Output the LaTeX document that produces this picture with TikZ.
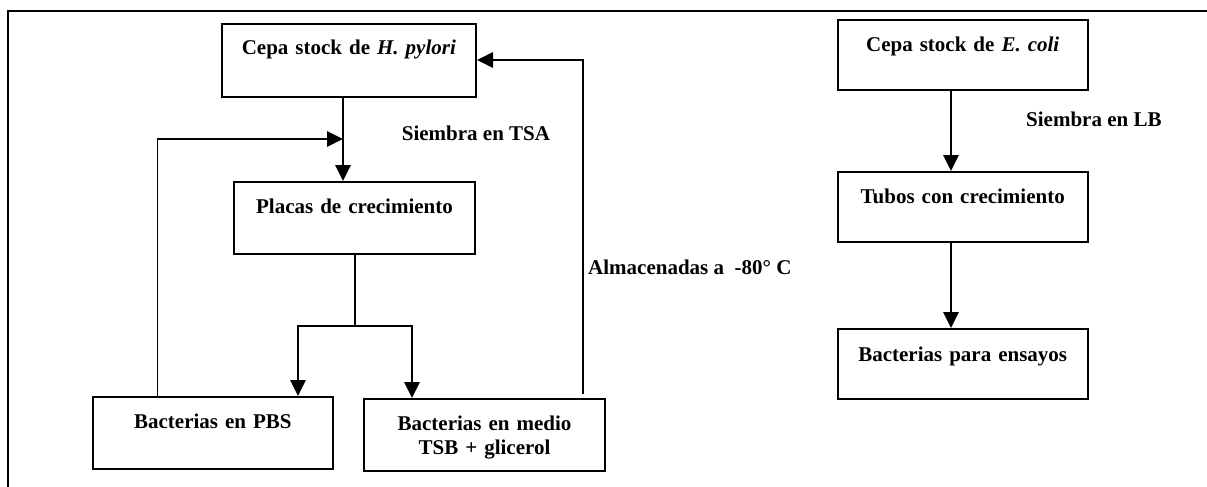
\documentclass[tikz,border=0pt]{standalone}
\usepackage{fontspec}
\setmainfont{Liberation Serif}
\usetikzlibrary{arrows.meta}
\begin{document}
\begin{tikzpicture}[x=1pt,y=-1pt,
  every node/.style={font=\bfseries\fontsize{21}{24}\selectfont, inner sep=0pt},
  box/.style={draw, line width=2pt, align=center, anchor=north west},
  arr/.style={line width=2.7pt, -{Triangle[length=16pt,width=15pt]}},
  stem/.style={line width=2.7pt},
  thinline/.style={line width=1.5pt},
  frameline/.style={line width=2.6pt},
  lbl/.style={anchor=base west}]
\useasboundingbox (0,0) rectangle (1207,487);
% frame
\coordinate (fa) at (1212,11);
\coordinate (fb) at (8,11);
\coordinate (fc) at (8,492);
\draw[frameline] (fa) -- (fb) -- (fc);
% H. pylori branch
\node[box, text width=254.3pt, text height=31pt, text depth=42pt] (hp) at (220.7,23) {Cepa stock de \textit{H. pylori}};
\node[box, text width=241pt, text height=31pt, text depth=41pt] (pl) at (233,181) {Placas de crecimiento};
\node[box, text width=240.3pt, text height=31pt, text depth=41pt] (pbs) at (91.7,396) {Bacterias en PBS};
\node[box, text width=241pt, text height=31.3pt, text depth=40.7pt] (tsb) at (363,398) {Bacterias en medio\\TSB + glicerol};
% E. coli branch
\node[box, text width=250pt, text height=32pt, text depth=38pt] (ec) at (836.7,19) {Cepa stock de \textit{E. coli}};
\node[box, text width=250pt, text height=31pt, text depth=39pt] (tu) at (836.7,171) {Tubos con crecimiento};
\node[box, text width=250pt, text height=32pt, text depth=38pt] (en) at (836.7,328) {Bacterias para ensayos};
% labels
\node[lbl] (l1) at (401.7,140) {Siembra en TSA};
\node[lbl] (l2) at (1026,126.7) {Siembra en LB};
\node[lbl] (l3) at (588,274) {Almacenadas a\ \ -80° C};
% connectors H. pylori
\coordinate (dn) at (343,139);
\draw[arr] (hp.south -| dn) -- (pl.north -| dn);
\coordinate (ll) at (157.7,139);
\draw[thinline] (pbs.north -| ll) -- (ll);
\draw[arr] ([xshift=-0.7pt]ll) -- (dn);
\coordinate (rl) at (583,60);
\draw[thinline] ([yshift=4pt]tsb.north -| rl) -- ([yshift=-1pt]rl);
\draw[arr] ([xshift=0.7pt]rl) -- (hp.east |- rl);
\coordinate (br) at (355,326);
\coordinate (brl) at (298,326);
\coordinate (brr) at (412,326);
\draw[stem] (pl.south -| br) -- (br);
\draw[arr] (br) -| (pbs.north -| brl);
\draw[arr] (br) -| (tsb.north -| brr);
% connectors E. coli
\coordinate (ex) at (951,100);
\draw[arr] (ec.south -| ex) -- (tu.north -| ex);
\draw[arr] (tu.south -| ex) -- (en.north -| ex);
\end{tikzpicture}
\end{document}
